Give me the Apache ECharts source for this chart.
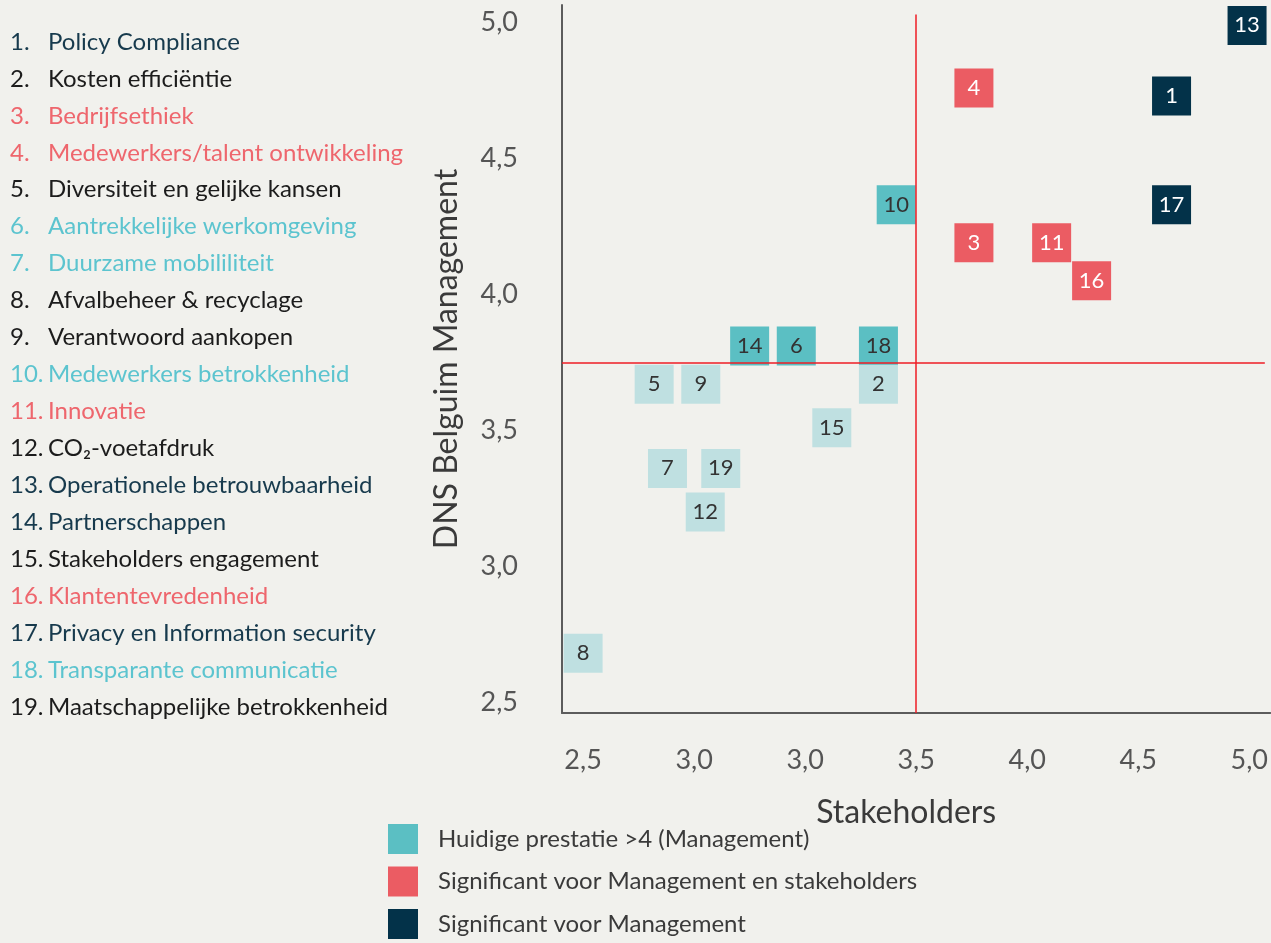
<!DOCTYPE html>
<html><head><meta charset="utf-8">
<script src="https://cdn.jsdelivr.net/npm/echarts@6/dist/echarts.min.js"></script>
<style>html,body{margin:0;padding:0;background:#f1f1ed}#c{width:1271px;height:943px}</style>
</head><body><div id="c"></div>
<script>
// ---- data ----
const itemIds = [1,2,3,4,5,6,7,8,9,10,11,12,13,14,15,16,17,18,19];
const itemNames = [
  'Policy Compliance','Kosten efficiëntie','Bedrijfsethiek','Medewerkers/talent ontwikkeling',
  'Diversiteit en gelijke kansen','Aantrekkelijke werkomgeving','Duurzame mobililiteit',
  'Afvalbeheer & recyclage','Verantwoord aankopen','Medewerkers betrokkenheid','Innovatie',
  'CO₂-voetafdruk','Operationele betrouwbaarheid','Partnerschappen','Stakeholders engagement',
  'Klantentevredenheid','Privacy en Information security','Transparante communicatie',
  'Maatschappelijke betrokkenheid'
];
const itemNameColors = ['navy','black','red','red','black','teal','teal','black','black','teal',
  'red','black','navy','navy','black','red','navy','teal','black'];
// x: Stakeholders, y: DNS Belguim Management
const stakeholderScores = [4.65,3.33,3.76,3.76,2.32,2.96,2.38,2.00,2.53,3.41,4.11,2.55,4.99,2.75,3.12,4.29,4.65,3.33,2.62];
const managementScores  = [4.73,3.67,4.19,4.76,3.67,3.81,3.36,2.68,3.67,4.33,4.19,3.20,4.99,3.81,3.51,4.05,4.33,3.81,3.36];
const itemGroups = ['mgmt','other','both','both','other','perf','other','other','other','perf',
  'both','other','mgmt','perf','other','both','mgmt','perf','other'];
const groupKeys = ['perf','both','mgmt','other'];
const groupNames = ['Huidige prestatie >4 (Management)','Significant voor Management en stakeholders','Significant voor Management',''];
const xTickValues = [2.0,2.5,3.0,3.5,4.0,4.5,5.0];
const xTickLabels = ['2,5','3,0','3,0','3,5','4,0','4,5','5,0'];
const yTickValues = [2.5,3.0,3.5,4.0,4.5,5.0];
const yTickLabels = ['2,5','3,0','3,5','4,0','4,5','5,0'];
const stakeholderThreshold = 3.5;
const managementThreshold = 3.75;

// ---- styles ----
const FONT = 'Lato, "Noto Sans", sans-serif';
const groupFill = {perf:'#5bbfc3', both:'#eb5c63', mgmt:'#033249', other:'#bfe0e1'};
const groupText = {perf:'#333333', both:'#ffffff', mgmt:'#ffffff', other:'#333333'};
const nameColor = {navy:'#173a4d', black:'#1c1c1c', red:'#ee666d', teal:'#5cc4cf'};
const X_MIN = 1.905, X_MAX = 5.095, Y_MIN = 2.46, Y_MAX = 5.065;

const series = groupKeys.map((g, gi) => ({
  type: 'scatter',
  name: groupNames[gi] || 'overig',
  symbol: 'rect',
  symbolSize: 39,
  z: 2,
  itemStyle: {color: groupFill[g], opacity: 1},
  label: {show: true, position: 'inside', formatter: p => String(p.value[2]),
          color: groupText[g], fontFamily: FONT, fontSize: 22},
  emphasis: {disabled: true},
  data: itemIds.map((id, i) => itemGroups[i] === g ? [stakeholderScores[i], managementScores[i], id] : null)
              .filter(d => d)
}));

series.push({
  type: 'scatter', name: 'lines', data: [], z: 5, silent: true,
  markLine: {
    symbol: ['none','none'], silent: true, animation: false,
    lineStyle: {color: '#ee1c25', width: 1.5, type: 'solid'},
    label: {show: false},
    data: [
      [{coord: [stakeholderThreshold, Y_MIN]}, {coord: [stakeholderThreshold, 5.03]}],
      [{coord: [X_MIN, managementThreshold]}, {coord: [5.07, managementThreshold]}]
    ]
  }
});

const graphics = [];
itemNames.forEach((n, i) => {
  const y = 42 + i * 36.94;
  const c = nameColor[itemNameColors[i]];
  graphics.push({type: 'text', x: 10, y: y, z: 10,
    style: {text: itemIds[i] + '.', fill: c, font: '24px ' + FONT, verticalAlign: 'middle', align: 'left'}});
  graphics.push({type: 'text', x: 48, y: y, z: 10,
    style: {text: n, fill: c, font: '24px ' + FONT, verticalAlign: 'middle', align: 'left'}});
});

const chart = echarts.init(document.getElementById('c'), null, {renderer: 'canvas'});
chart.setOption({
  backgroundColor: '#f1f1ed',
  animation: false,
  textStyle: {fontFamily: FONT},
  grid: {left: 562, right: 0, top: 5, bottom: 230, containLabel: false},
  xAxis: {
    type: 'value', min: X_MIN, max: X_MAX,
    name: 'Stakeholders', nameLocation: 'middle', nameGap: 84,
    nameTextStyle: {fontFamily: FONT, fontSize: 32, color: '#3a3a3a', padding: [0, 20, 0, 0]},
    axisLine: {show: true, onZero: false, lineStyle: {color: '#5c5c5c', width: 2}},
    axisTick: {show: false},
    splitLine: {show: false},
    axisLabel: {
      customValues: xTickValues, margin: 34, fontFamily: FONT, fontSize: 27, color: '#555555',
      formatter: v => { const k = xTickValues.findIndex(t => Math.abs(t - v) < 1e-6); return k >= 0 ? xTickLabels[k] : ''; }
    }
  },
  yAxis: {
    type: 'value', min: Y_MIN, max: Y_MAX,
    name: 'DNS Belguim Management', nameLocation: 'middle', nameGap: 99,
    nameTextStyle: {fontFamily: FONT, fontSize: 32, color: '#3a3a3a'},
    axisLine: {show: true, onZero: false, lineStyle: {color: '#5c5c5c', width: 2}},
    axisTick: {show: false},
    splitLine: {show: false},
    axisLabel: {
      customValues: yTickValues, margin: 44, fontFamily: FONT, fontSize: 27, color: '#555555',
      formatter: v => { const k = yTickValues.findIndex(t => Math.abs(t - v) < 1e-6); return k >= 0 ? yTickLabels[k] : ''; }
    }
  },
  legend: {
    data: groupNames.slice(0, 3),
    orient: 'vertical', left: 388, top: 824, padding: 0,
    icon: 'rect', itemWidth: 30, itemHeight: 30, itemGap: 12.5,
    selectedMode: false,
    textStyle: {fontFamily: FONT, fontSize: 24, color: '#3a3a3a', padding: [6, 0, 0, 15]}
  },
  graphic: graphics,
  series: series
});
</script></body></html>
